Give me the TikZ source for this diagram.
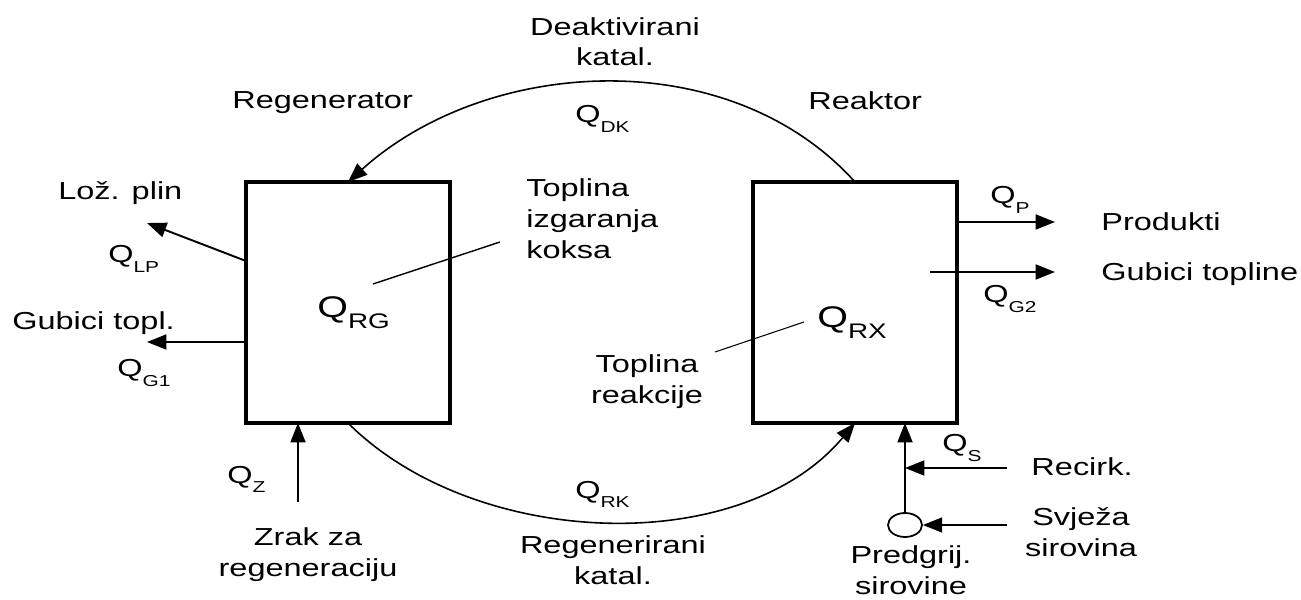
\documentclass[tikz,border=0pt]{standalone}
\usepackage{fontspec}
\setmainfont{Liberation Sans}[FakeStretch=1.32]
\usepackage{tikz}
\usetikzlibrary{positioning,arrows.meta,shapes.geometric}

\newcommand{\heat}[1]{Q\raisebox{-5.5pt}{\fontsize{9}{9}\selectfont #1}}
\newcommand{\bigheat}[1]{{\fontsize{17}{20}\selectfont Q\raisebox{-6pt}{\fontsize{12}{12}\selectfont #1}}}

\begin{document}
\begin{tikzpicture}[
    >={Triangle[length=11pt,width=8.5pt]},
    font=\fontsize{14}{17.5}\selectfont,
    unit/.style={draw, line width=2.4pt, minimum width=4.08cm, minimum height=4.82cm, inner sep=0pt, outer sep=0pt},
    flow/.style={->, line width=1.1pt},
    arcflow/.style={->, line width=0.9pt},
    leader/.style={line width=0.8pt},
    lbl/.style={inner sep=0pt, align=center}
]
\useasboundingbox (0,0) rectangle (26.02,11.98);

% Regenerator and reactor
\node[unit] (regen) at (6.96,5.93) {};
\node[unit] (reactor) at (17.10,5.93) {};
\node[lbl, anchor=base west] (regenlbl) at (4.64,9.80) {Regenerator};
\node[lbl, anchor=base west] (reactorlbl) at (16.16,9.78) {Reaktor};
\node[lbl, anchor=base west] (qrg) at (6.34,5.62) {\bigheat{RG}};
\node[lbl, anchor=base west] (qrx) at (16.34,5.42) {\bigheat{RX}};

% Catalyst loop
\draw[arcflow] (reactor.north) to[out=132, in=42, looseness=0.95] (regen.north);
\node[lbl, anchor=base] (deact) at (12.30,10.66) {Deaktivirani\\katal.};
\node[lbl, anchor=base west] (qdk) at (11.50,9.52) {\heat{DK}};
\draw[arcflow] (regen.south) to[out=-45, in=-130, looseness=0.9] (reactor.south);
\node[lbl, anchor=base west] (qrk) at (11.50,2.02) {\heat{RK}};
\node[lbl, anchor=base] (regcat) at (12.26,0.30) {Regenerirani\\katal.};

% Heat notes
\node[inner sep=0pt, align=left, anchor=base west] (burn) at (10.52,6.81) {Toplina\\izgaranja\\koksa};
\coordinate (burnend) at (10.00,7.14);
\coordinate (qrgend) at (7.46,6.30);
\draw[leader] (burnend) -- (qrgend);
\node[lbl, anchor=base] (react) at (12.94,3.92) {Toplina\\reakcije};
\coordinate (reactend) at (14.30,4.94);
\coordinate (qrxend) at (16.08,5.54);
\draw[line width=0.6pt] (reactend) -- (qrxend);

% Regenerator streams
\coordinate (lpout) at (2.94,7.52);
\draw[flow] ([yshift=0.83cm]regen.west) -- (lpout);
\node[lbl, anchor=base west] (lp) at (1.16,7.98) {Lo\v{z}. plin};
\node[lbl, anchor=base west] (qlp) at (2.16,6.72) {\heat{LP}};
\coordinate (g1out) at (2.94,5.14);
\draw[flow] (g1out -| regen.west) -- (g1out);
\node[lbl, anchor=base west] (g1) at (0.24,5.38) {Gubici topl.};
\node[lbl, anchor=base west] (qg1) at (2.34,4.44) {\heat{G1}};
\coordinate (airin) at (5.96,1.94);
\draw[flow] (airin) -- (airin |- regen.south);
\node[lbl, anchor=base west] (qz) at (4.54,2.32) {\heat{Z}};
\node[lbl, anchor=base] (air) at (6.16,0.46) {Zrak za\\regeneraciju};

% Reactor streams
\coordinate (prodout) at (21.10,7.54);
\draw[flow] (prodout -| reactor.east) -- (prodout);
\node[lbl, anchor=base west] (qp) at (19.80,7.90) {\heat{P}};
\node[lbl, anchor=base west] (prod) at (22.02,7.36) {Produkti};
\coordinate (g2in) at (18.60,6.54);
\coordinate (g2out) at (21.10,6.54);
\draw[flow] (g2in) -- (g2out);
\node[lbl, anchor=base west] (g2) at (22.02,6.36) {Gubici topline};
\node[lbl, anchor=base west] (qg2) at (19.66,5.92) {\heat{G2}};

% Feed
\node[draw, ellipse, line width=1pt, minimum width=0.68cm, minimum height=0.48cm, inner sep=0pt] (heater) at (18.10,1.48) {};
\draw[flow] (heater.north) -- (heater.north |- reactor.south);
\coordinate (recin) at (20.14,2.62);
\draw[flow] (recin) -- (recin -| heater.north);
\coordinate (freshin) at (20.14,1.48);
\draw[flow] (freshin) -- (heater.east);
\node[lbl, anchor=base west] (qs) at (18.84,2.94) {\heat{S}};
\node[lbl, anchor=base] (rec) at (21.64,2.48) {Recirk.};
\node[lbl, anchor=base] (fresh) at (21.62,0.86) {Svje\v{z}a\\sirovina};
\node[lbl, anchor=base] (preheat) at (18.22,0.10) {Predgrij.\\sirovine};
\end{tikzpicture}
\end{document}
